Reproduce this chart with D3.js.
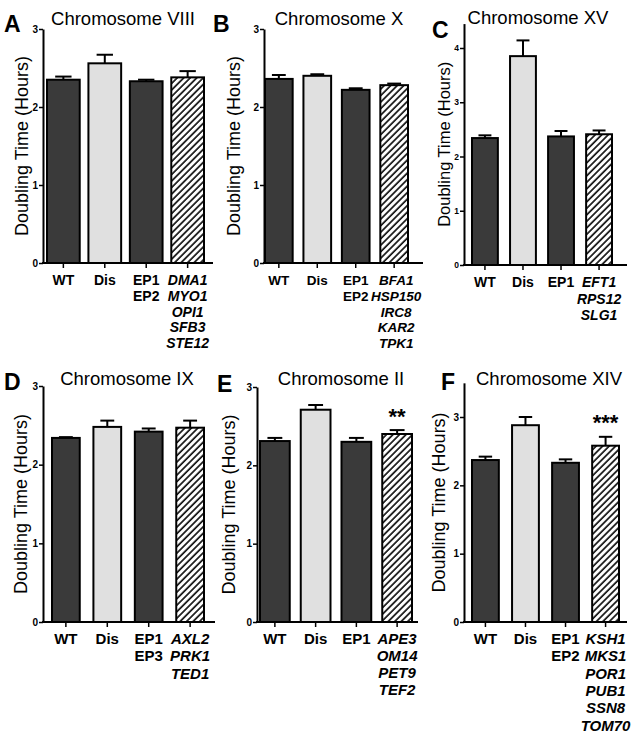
<!DOCTYPE html>
<html><head><meta charset="utf-8">
<script src="https://cdn.jsdelivr.net/npm/d3@7"></script>
<style>body{margin:0;background:#fff}svg{display:block}text{font-family:"Liberation Sans",Arial,sans-serif}</style>
</head><body>
<script>
// ---------- DATA ----------
const panelLetters = ["A","B","C","D","E","F"];
const panelTitles = ["Chromosome VIII","Chromosome X","Chromosome XV","Chromosome IX","Chromosome II","Chromosome XIV"];
const groupTypes = ["dark","light","dark","hatch"];
const labelsA = [["WT"],["Dis"],["EP1","EP2"],["DMA1","MYO1","OPI1","SFB3","STE12"]];
const labelsB = [["WT"],["Dis"],["EP1","EP2"],["BFA1","HSP150","IRC8","KAR2","TPK1"]];
const labelsC = [["WT"],["Dis"],["EP1"],["EFT1","RPS12","SLG1"]];
const labelsD = [["WT"],["Dis"],["EP1","EP3"],["AXL2","PRK1","TED1"]];
const labelsE = [["WT"],["Dis"],["EP1"],["APE3","OM14","PET9","TEF2"]];
const labelsF = [["WT"],["Dis"],["EP1","EP2"],["KSH1","MKS1","POR1","PUB1","SSN8","TOM70"]];
const meansA = [2.35, 2.56, 2.33, 2.38]; const errA = [0.04, 0.11, 0.02, 0.08];
const meansB = [2.36, 2.40, 2.22, 2.28]; const errB = [0.05, 0.02, 0.02, 0.02];
const meansC = [2.34, 3.85, 2.37, 2.41]; const errC = [0.05, 0.29, 0.10, 0.07];
const meansD = [2.34, 2.48, 2.42, 2.47]; const errD = [0.01, 0.08, 0.04, 0.09];
const meansE = [2.31, 2.71, 2.30, 2.40]; const errE = [0.04, 0.06, 0.05, 0.05];
const meansF = [2.37, 2.88, 2.33, 2.58]; const errF = [0.05, 0.12, 0.05, 0.13];
const yTicksA = [0,1,2,3], yTicksB = [0,1,2,3], yTicksC = [0,1,2,3,4];
const yTicksD = [0,1,2,3], yTicksE = [0,1,2,3], yTicksF = [0,1,2,3];
const axisMax = [3, 3, 4.45, 3, 3, 3.5];
const significance = ["", "", "", "", "**", "***"];
const yLabel = "Doubling Time (Hours)";

// ---------- LAYOUT ----------
const layout = [
  {ax:43,  xEnd:213, y0:263, yAt:[3,29],  band:[47,204],  pad:0.21, letter:[4,32],   title:[123,25], ylx:22,  ylfs:18, lh:15.8, tfs:10, xfs:14, nudge:0},
  {ax:264, xEnd:423, y0:263, yAt:[3,29],  band:[265,408], pad:0.28, letter:[213,32], title:[339,25], ylx:234, ylfs:18, lh:15.8, tfs:10, xfs:13.5, nudge:2},
  {ax:464, xEnd:627, y0:265, yAt:[4,48],  band:[472,612], pad:0.32, letter:[432,38], title:[538,24], ylx:444, ylfs:16.5, lh:16.5, tfs:8.5, xfs:14, nudge:0},
  {ax:43,  xEnd:215, y0:622, yAt:[3,386], band:[52,204],  pad:0.33, letter:[4,390],  title:[127,385], ylx:21, ylfs:18, lh:17.3, tfs:10, xfs:15, nudge:0},
  {ax:257, xEnd:418, y0:622, yAt:[3,387], band:[260,412], pad:0.27, letter:[217,392], title:[341,385], ylx:229, ylfs:18, lh:17, tfs:10, xfs:15, nudge:0},
  {ax:464, xEnd:627, y0:622, yAt:[3,417], band:[472,619], pad:0.33, letter:[441,390], title:[549,385], ylx:439, ylfs:18, lh:17.3, tfs:10, xfs:15, nudge:0}
];

const allLabels = [labelsA,labelsB,labelsC,labelsD,labelsE,labelsF];
const allMeans = [meansA,meansB,meansC,meansD,meansE,meansF];
const allErr = [errA,errB,errC,errD,errE,errF];
const allTicks = [yTicksA,yTicksB,yTicksC,yTicksD,yTicksE,yTicksF];
const fills = {dark:"#3a3a3a", light:"#e0e0e0", hatch:"url(#hatch)"};

const svg = d3.select("body").append("svg").attr("width",640).attr("height",741);
svg.append("rect").attr("width",640).attr("height",741).attr("fill","#fff");
const pat = svg.append("defs").append("pattern").attr("id","hatch")
  .attr("patternUnits","userSpaceOnUse").attr("width",4.6).attr("height",4.6)
  .attr("patternTransform","rotate(45)");
pat.append("rect").attr("width",4.6).attr("height",4.6).attr("fill","#fff");
pat.append("line").attr("x1",1).attr("y1",0).attr("x2",1).attr("y2",4.6).attr("stroke","#111").attr("stroke-width",1.7);

panelLetters.forEach((L,i)=>{
  const c = layout[i];
  const g = svg.append("g");
  const unit = (c.y0 - c.yAt[1]) / c.yAt[0];
  const y = d3.scaleLinear().domain([0, axisMax[i]]).range([c.y0, c.y0 - axisMax[i]*unit]);
  const cats = allLabels[i].map((d,k)=>"c"+k);
  const x = d3.scaleBand().domain(cats).range(c.band).paddingInner(c.pad).paddingOuter(0);
  const means = allMeans[i], errs = allErr[i];

  g.selectAll("rect.bar").data(means).join("rect")
    .attr("x",(d,k)=>x(cats[k])).attr("width",x.bandwidth())
    .attr("y",d=>y(d)).attr("height",d=>c.y0-y(d))
    .attr("fill",(d,k)=>fills[groupTypes[k]]).attr("stroke","#000").attr("stroke-width",2);
  const eb = g.selectAll("g.eb").data(means).join("g");
  eb.append("line").attr("x1",(d,k)=>x(cats[k])+x.bandwidth()/2).attr("x2",(d,k)=>x(cats[k])+x.bandwidth()/2)
    .attr("y1",d=>y(d)).attr("y2",(d,k)=>y(d+errs[k])).attr("stroke","#000").attr("stroke-width",2);
  eb.append("line").attr("x1",(d,k)=>x(cats[k])+x.bandwidth()/4).attr("x2",(d,k)=>x(cats[k])+3*x.bandwidth()/4)
    .attr("y1",(d,k)=>y(d+errs[k])).attr("y2",(d,k)=>y(d+errs[k])).attr("stroke","#000").attr("stroke-width",2);

  const ya = g.append("g").attr("transform",`translate(${c.ax},0)`)
    .call(d3.axisLeft(y).tickValues(allTicks[i]).tickSize(4).tickSizeOuter(0).tickPadding(1).tickFormat(d3.format("d")));
  ya.select(".domain").attr("stroke-width",2);
  ya.selectAll(".tick line").attr("stroke-width",1.5);
  ya.selectAll(".tick text").attr("font-size",c.tfs).attr("font-weight","bold").attr("font-family","Liberation Sans, Arial, sans-serif");

  const xa = g.append("g").attr("transform",`translate(0,${c.y0})`)
    .call(d3.axisBottom(x).tickSize(5).tickSizeOuter(0).tickFormat(""));
  xa.select(".domain").remove();
  xa.selectAll(".tick line").attr("stroke-width",1.5);
  g.append("line").attr("x1",c.ax-1).attr("x2",c.xEnd).attr("y1",c.y0).attr("y2",c.y0).attr("stroke","#000").attr("stroke-width",2);

  allLabels[i].forEach((lines,k)=>{
    const t = g.append("text").attr("text-anchor","middle").attr("font-size",c.xfs).attr("font-weight","bold")
      .attr("font-style",k===3?"italic":"normal");
    const cx = x(cats[k])+x.bandwidth()/2 + (k===3?c.nudge:0);
    lines.forEach((ln,j)=>{
      t.append("tspan").attr("x",cx).attr("y",c.y0+22+j*c.lh).text(ln);
    });
  });

  if (significance[i]) {
    const k = 3;
    g.append("text").attr("x",x(cats[k])+x.bandwidth()/2).attr("y",y(means[k]+errs[k])-(i===4?6:7))
      .attr("text-anchor","middle").attr("font-size",22).attr("font-weight","bold").text(significance[i]);
  }

  g.append("text").attr("x",c.title[0]).attr("y",c.title[1]).attr("text-anchor","middle").attr("font-size",18.5).text(panelTitles[i]);
  g.append("text").attr("x",c.letter[0]).attr("y",c.letter[1]).attr("font-size",23).attr("font-weight","bold").text(L);
  g.append("text").attr("transform",`translate(${c.ylx+6},${(c.y0 + y(axisMax[i]))/2}) rotate(-90)`)
    .attr("text-anchor","middle").attr("font-size",c.ylfs).text(yLabel);
});
</script>
</body></html>
